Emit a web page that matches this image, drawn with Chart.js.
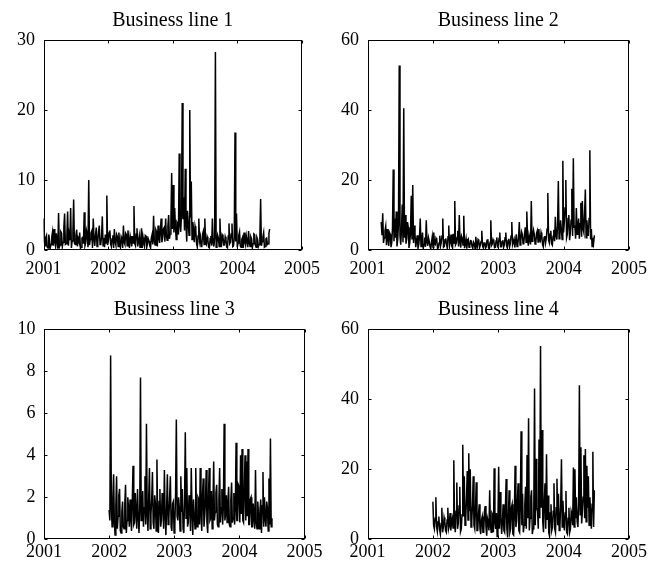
<!DOCTYPE html>
<html>
<head>
<meta charset="utf-8">
<title>Business lines</title>
<script src="https://cdn.jsdelivr.net/npm/chart.js@4.4.0/dist/chart.umd.min.js"></script>
<style>
  body { margin: 0; background: #fff; }
  #wrap { position: relative; width: 656px; height: 563px; overflow: hidden; }
  canvas { position: absolute; }
</style>
</head>
<body>
<div id="wrap">
  <canvas id="c1" width="328" height="280" style="left:0;top:0"></canvas>
  <canvas id="c2" width="328" height="280" style="left:328px;top:0"></canvas>
  <canvas id="c3" width="328" height="283" style="left:0;top:280px"></canvas>
  <canvas id="c4" width="328" height="283" style="left:328px;top:280px"></canvas>
</div>
<script>
const titles = ["Business line 1", "Business line 2", "Business line 3", "Business line 4"];
const yearTicks = [2001, 2002, 2003, 2004, 2005];
const yTicks1 = [0, 10, 20, 30];
const yTicks2 = [0, 20, 40, 60];
const yTicks3 = [0, 2, 4, 6, 8, 10];
const yTicks4 = [0, 20, 40, 60];

// first and last observation date of each line (decimal years)
const span1 = [2001.0, 2004.5];
const span2 = [2001.21, 2004.47];
const span3 = [2002.0, 2004.5];
const span4 = [2002.0, 2004.47];

const line1 = [
  4.5, 1.2, 0.6, 1.8, 2.1, 0.4, 0.3, 2.2, 1.4, 0.3, 0.8, 1.9, 2.6, 0.6, 3.0, 1.1, 0.5, 2.4, 1.2, 0.2,
  5.3, 0.4, 0.7, 2.6, 2.4, 0.5, 1.1, 3.2, 5.2, 0.8, 0.9, 2.0, 5.5, 0.6, 2.2, 1.4, 6.0, 0.3, 1.3, 2.5,
  7.2, 1.0, 0.8, 2.1, 2.9, 0.5, 1.6, 1.2, 2.5, 0.2, 0.4, 1.7, 1.8, 0.9, 5.4, 0.6, 1.0, 2.8, 2.3, 0.4,
  10.0, 0.7, 1.5, 2.4, 2.7, 0.3, 4.5, 1.6, 0.6, 2.1, 3.2, 0.5, 1.1, 2.6, 3.5, 0.8, 0.9, 1.9, 4.8, 0.6,
  1.7, 0.4, 2.2, 1.0, 7.8, 0.7, 1.3, 2.5, 2.8, 0.9, 0.5, 1.6, 2.1, 0.3, 3.0, 1.2, 0.7, 2.2, 1.9, 0.5,
  2.5, 0.8, 0.4, 1.9, 1.6, 0.3, 3.5, 1.1, 0.8, 2.4, 2.2, 0.6, 2.8, 1.5, 0.3, 2.0, 1.4, 0.5, 2.0, 1.0,
  6.3, 0.9, 0.6, 2.3, 3.1, 0.5, 1.2, 2.0, 0.4, 1.4, 3.1, 0.3, 1.8, 1.0, 0.5, 2.1, 2.0, 0.4, 0.9, 1.6,
  1.3, 0.6, 0.3, 1.7, 2.2, 0.8, 4.9, 1.3, 0.7, 2.9, 2.6, 0.5, 3.5, 1.8, 1.0, 2.7, 4.5, 1.1, 1.8, 3.0,
  3.2, 1.2, 4.5, 2.0, 1.4, 3.4, 5.0, 1.6, 2.3, 4.2, 11.0, 3.0, 9.3, 2.5, 6.0, 3.3, 1.5, 4.0, 3.8, 2.2,
  13.8, 3.5, 2.6, 5.0, 21.0, 4.4, 7.5, 2.8, 11.6, 3.6, 1.2, 5.6, 4.0, 2.1, 20.0, 4.6, 9.8, 1.5, 4.0, 3.0,
  1.1, 3.4, 2.8, 0.9, 0.4, 2.0, 4.5, 1.3, 1.9, 0.5, 0.6, 2.3, 2.7, 0.8, 4.5, 1.0, 0.8, 1.9, 1.5, 0.4,
  0.3, 1.6, 2.0, 0.6, 4.5, 1.1, 0.5, 1.8, 28.3, 0.4, 0.9, 2.1, 1.7, 0.5, 4.5, 1.3, 0.4, 2.2, 2.0, 0.7,
  0.7, 1.9, 1.5, 0.4, 0.3, 2.0, 3.8, 0.9, 1.1, 2.3, 3.8, 0.5, 0.6, 1.7, 16.8, 1.2, 5.2, 0.4, 1.0, 2.1,
  2.6, 0.6, 0.4, 1.5, 1.8, 0.3, 2.5, 1.2, 0.7, 2.0, 1.3, 0.4, 2.7, 1.0, 0.5, 1.9, 1.6, 0.3, 0.9, 2.3,
  2.2, 0.7, 0.4, 1.8, 1.5, 0.5, 0.8, 2.0, 7.3, 0.6, 1.2, 1.9, 2.5, 0.4, 0.5, 1.6, 1.7, 0.8, 0.9, 2.4,
  3.0
];

const line2 = [
  8.0, 4.2, 10.5, 2.0, 3.5, 5.5, 6.8, 1.4, 6.0, 3.0, 1.2, 5.0, 4.5, 0.8, 2.0, 6.2, 23.0, 2.5, 9.0, 3.5,
  11.0, 1.0, 3.0, 7.5, 52.7, 4.0, 1.5, 6.0, 13.0, 2.2, 40.5, 3.5, 10.0, 1.8, 3.2, 8.0, 6.5, 0.6, 2.0, 4.8,
  15.5, 3.0, 18.6, 2.0, 7.0, 4.5, 0.8, 2.6, 4.2, 0.5, 1.5, 3.8, 9.0, 1.0, 2.8, 5.0, 0.5, 1.6, 3.6, 0.9,
  8.5, 2.4, 1.2, 3.5, 2.5, 1.0, 0.4, 2.2, 3.8, 0.7, 5.0, 1.9, 1.6, 3.4, 2.9, 0.5, 0.6, 2.0, 4.1, 1.1,
  2.2, 4.0, 9.0, 0.8, 1.0, 2.9, 3.3, 1.5, 0.5, 3.8, 7.0, 1.2, 2.4, 4.4, 1.1, 0.6, 4.6, 2.0, 14.0, 1.5,
  2.0, 3.6, 5.5, 1.0, 10.0, 2.2, 0.7, 4.0, 3.4, 1.4, 9.8, 0.5, 1.8, 3.2, 0.4, 2.5, 3.0, 0.8, 1.2, 2.7,
  2.6, 1.0, 0.5, 2.3, 1.9, 0.4, 3.8, 1.6, 0.9, 3.0, 2.7, 0.6, 1.4, 2.4, 5.5, 1.1, 0.6, 2.0, 2.2, 0.5,
  1.0, 2.8, 3.1, 0.6, 0.4, 2.2, 8.5, 1.3, 1.7, 3.0, 2.5, 0.7, 0.8, 2.6, 3.6, 1.0, 1.3, 3.3, 5.0, 0.9,
  0.9, 2.4, 2.8, 0.7, 1.5, 3.5, 5.0, 1.2, 0.6, 2.7, 3.2, 0.9, 1.9, 4.0, 8.0, 1.5, 2.3, 3.1, 0.7, 2.5,
  4.5, 1.0, 1.6, 3.8, 8.0, 1.4, 2.9, 5.2, 4.5, 1.8, 2.0, 4.6, 6.5, 2.2, 11.0, 3.5, 1.2, 4.2, 3.0, 1.6,
  14.0, 2.5, 3.8, 5.6, 4.5, 1.7, 2.0, 4.8, 5.5, 2.3, 6.0, 3.0, 2.6, 5.0, 4.0, 1.5, 0.9, 3.6, 4.0, 2.0,
  3.5, 6.0, 16.3, 2.8, 2.0, 4.6, 5.5, 1.8, 1.4, 3.9, 5.8, 2.5, 9.5, 4.2, 3.0, 7.0, 19.7, 3.2, 4.0, 8.5,
  6.0, 3.0, 25.5, 5.0, 8.0, 12.0, 20.0, 3.5, 4.5, 9.0, 10.0, 2.8, 5.0, 8.5, 17.5, 4.0, 26.2, 6.5, 7.0, 3.2,
  12.0, 4.5, 6.5, 9.0, 3.2, 7.5, 13.5, 3.8, 14.0, 6.0, 5.0, 10.5, 17.3, 3.5, 8.5, 5.5, 4.0, 9.0, 28.5, 3.0,
  6.0, 1.0, 3.5, 2.0, 4.2
];

const line3 = [
  1.4, 0.9, 8.75, 1.5, 0.6, 2.0, 3.1, 0.8, 0.2, 1.6, 3.0, 0.5, 1.1, 2.1, 2.4, 0.4, 0.3, 1.3, 1.8, 0.6,
  0.5, 1.7, 2.6, 0.3, 0.9, 2.0, 1.5, 0.6, 1.9, 1.0, 0.4, 1.8, 3.5, 0.7, 0.8, 2.2, 1.3, 0.5, 2.4, 1.1,
  0.3, 1.4, 7.7, 0.9, 1.0, 2.3, 0.6, 1.5, 3.0, 0.7, 5.5, 1.2, 0.4, 2.0, 3.4, 0.5, 1.2, 1.9, 3.2, 0.8,
  0.5, 2.1, 1.7, 0.4, 3.8, 1.0, 0.3, 1.8, 2.4, 0.6, 0.9, 2.2, 1.6, 0.5, 3.3, 1.2, 0.2, 1.5, 3.1, 0.7,
  1.0, 2.0, 3.0, 0.6, 0.4, 1.7, 1.8, 0.3, 0.7, 2.2, 5.7, 1.1, 0.9, 2.0, 1.5, 0.4, 3.0, 1.3, 2.4, 0.5,
  0.3, 1.8, 5.1, 1.0, 3.4, 0.6, 0.8, 2.1, 1.6, 0.4, 3.4, 1.3, 0.2, 1.9, 1.2, 0.5, 3.4, 1.1, 0.6, 2.0,
  1.9, 0.7, 3.4, 1.2, 0.4, 2.1, 2.9, 0.6, 1.1, 1.8, 3.3, 0.8, 0.3, 2.0, 3.4, 0.9, 1.0, 2.3, 0.5, 1.5,
  3.7, 0.9, 1.3, 2.2, 2.6, 0.7, 0.6, 1.9, 3.4, 0.8, 1.5, 2.4, 0.7, 1.6, 5.5, 0.9, 1.2, 2.1, 0.8, 1.7,
  2.5, 0.7, 0.6, 1.9, 2.7, 0.8, 1.0, 2.2, 0.7, 1.5, 4.6, 0.9, 0.9, 2.6, 2.5, 0.8, 4.0, 1.2, 4.3, 0.9,
  0.8, 2.4, 4.0, 0.9, 3.7, 1.1, 4.3, 0.7, 0.7, 1.9, 2.0, 0.6, 0.6, 1.7, 1.0, 0.5, 3.3, 0.8, 0.5, 1.8,
  1.2, 0.5, 1.4, 1.9, 0.3, 1.6, 3.2, 0.6, 2.0, 1.0, 0.6, 1.8, 1.5, 0.4, 2.9, 0.7, 4.8, 0.6, 1.0
];

const line4 = [
  10.7, 4.0, 3.0, 6.0, 12.0, 3.5, 2.2, 5.0, 6.5, 2.8, 1.5, 4.5, 9.0, 2.0, 3.5, 6.2, 5.0, 2.5, 2.0, 5.5,
  9.0, 3.0, 4.0, 7.5, 2.5, 4.8, 6.0, 3.2, 22.6, 5.0, 2.0, 8.0, 16.2, 3.0, 4.5, 9.5, 15.0, 2.2, 3.0, 7.0,
  27.0, 6.5, 18.0, 4.0, 6.0, 12.0, 19.5, 5.5, 24.6, 8.0, 20.0, 3.5, 5.0, 10.0, 18.0, 4.0, 3.0, 9.0, 16.3, 2.5,
  2.5, 7.0, 10.0, 3.0, 1.5, 5.5, 6.5, 2.0, 2.0, 8.0, 9.5, 3.5, 1.0, 6.0, 5.0, 2.5, 14.0, 4.0, 2.0, 7.5,
  7.0, 2.0, 20.3, 5.0, 3.0, 7.5, 0.8, 4.5, 20.7, 3.0, 13.5, 6.0, 1.5, 5.0, 10.0, 2.5, 2.0, 8.5, 17.2, 3.0,
  0.5, 6.5, 14.0, 2.0, 3.0, 9.0, 10.0, 1.5, 1.2, 7.0, 21.0, 3.5, 5.0, 11.0, 16.0, 2.5, 2.0, 9.5, 30.9, 4.0,
  13.0, 2.0, 4.0, 10.0, 15.0, 3.0, 24.1, 6.0, 34.6, 2.5, 6.0, 12.0, 14.0, 1.5, 3.0, 8.0, 43.1, 4.0, 23.0, 9.0,
  8.0, 3.0, 28.5, 6.0, 55.2, 9.0, 31.2, 5.0, 2.0, 11.0, 16.0, 3.0, 24.3, 5.5, 12.5, 2.0, 1.0, 7.5, 10.0, 2.5,
  3.5, 8.0, 16.0, 3.0, 2.0, 9.0, 17.3, 4.0, 13.0, 2.5, 4.0, 10.0, 22.9, 3.5, 11.0, 5.0, 2.5, 7.5, 13.8, 2.0,
  1.5, 6.0, 9.0, 2.0, 3.0, 8.0, 7.0, 4.0, 20.5, 3.5, 20.0, 6.0, 12.0, 5.0, 3.5, 10.0, 44.0, 7.0, 26.3, 4.5,
  8.0, 12.0, 24.0, 6.0, 25.8, 5.0, 21.0, 9.0, 18.0, 4.0, 12.0, 7.5, 3.0, 10.0, 25.0, 3.5, 14.0
];

const serif = '"Liberation Serif", "Times New Roman", serif';

// box round the plot, inward ticks on all four sides, title above
const framePlugin = {
  id: 'frame',
  afterDraw(chart, args, opts) {
    const { ctx, chartArea: a, scales } = chart;
    const L = Math.round(a.left) + 0.5, R = Math.round(a.right) - 0.5;
    const T = Math.round(a.top) + 0.5, B = Math.round(a.bottom) - 0.5;
    const t = 3;
    ctx.save();
    ctx.strokeStyle = '#000';
    ctx.lineWidth = 1;
    ctx.strokeRect(L, T, R - L, B - T);
    ctx.beginPath();
    scales.x.ticks.forEach(tk => {
      const px = Math.round(scales.x.getPixelForValue(tk.value)) + 0.5;
      ctx.moveTo(px, B); ctx.lineTo(px, B - t);
      ctx.moveTo(px, T); ctx.lineTo(px, T + t);
    });
    scales.y.ticks.forEach(tk => {
      const py = Math.round(scales.y.getPixelForValue(tk.value)) + 0.5;
      ctx.moveTo(L, py); ctx.lineTo(L + t, py);
      ctx.moveTo(R, py); ctx.lineTo(R - t, py);
    });
    ctx.stroke();
    ctx.fillStyle = '#000';
    ctx.font = '20px ' + serif;
    ctx.textAlign = 'center';
    ctx.textBaseline = 'alphabetic';
    ctx.fillText(opts.text, (a.left + a.right) / 2, a.top - 14);
    ctx.restore();
  }
};

function makePanel(id, title, values, span, yTicks, box) {
  const step = (span[1] - span[0]) / (values.length - 1);
  const points = values.map((v, i) => ({ x: span[0] + i * step, y: v }));
  return new Chart(document.getElementById(id), {
    type: 'line',
    data: {
      datasets: [{
        data: points,
        borderColor: '#000',
        borderWidth: 1.5,
        borderJoinStyle: 'miter',
        pointRadius: 0,
        tension: 0,
        fill: false
      }]
    },
    options: {
      responsive: false,
      animation: false,
      events: [],
      layout: { padding: { top: box.top, right: box.right, left: 0, bottom: 0 } },
      plugins: {
        legend: { display: false },
        tooltip: { enabled: false },
        frame: { text: title }
      },
      scales: {
        x: {
          type: 'linear',
          min: yearTicks[0],
          max: yearTicks[yearTicks.length - 1],
          grid: { display: false, drawTicks: false },
          border: { display: false },
          afterBuildTicks: s => { s.ticks = yearTicks.map(v => ({ value: v })); },
          afterFit: s => { s.height = box.xh; },
          ticks: {
            color: '#000',
            font: { family: serif, size: 18 },
            padding: box.xpad,
            maxRotation: 0,
            autoSkip: false,
            callback: v => String(v)
          }
        },
        y: {
          min: yTicks[0],
          max: yTicks[yTicks.length - 1],
          grid: { display: false, drawTicks: false },
          border: { display: false },
          afterBuildTicks: s => { s.ticks = yTicks.map(v => ({ value: v })); },
          afterFit: s => { s.width = box.yw; },
          ticks: {
            color: '#000',
            font: { family: serif, size: 18 },
            padding: 8.5,
            callback: v => String(v)
          }
        }
      }
    },
    plugins: [framePlugin]
  });
}

makePanel('c1', titles[0], line1, span1, yTicks1, { top: 40, right: 24.5, yw: 43.5, xh: 30, xpad: 8 });
makePanel('c2', titles[1], line2, span2, yTicks2, { top: 40, right: 27, yw: 39.5, xh: 30, xpad: 8 });
makePanel('c3', titles[2], line3, span3, yTicks3, { top: 49.3, right: 23.5, yw: 44, xh: 23.7, xpad: 2 });
makePanel('c4', titles[3], line4, span4, yTicks4, { top: 49.3, right: 27, yw: 39.5, xh: 23.7, xpad: 2 });
</script>
</body>
</html>
